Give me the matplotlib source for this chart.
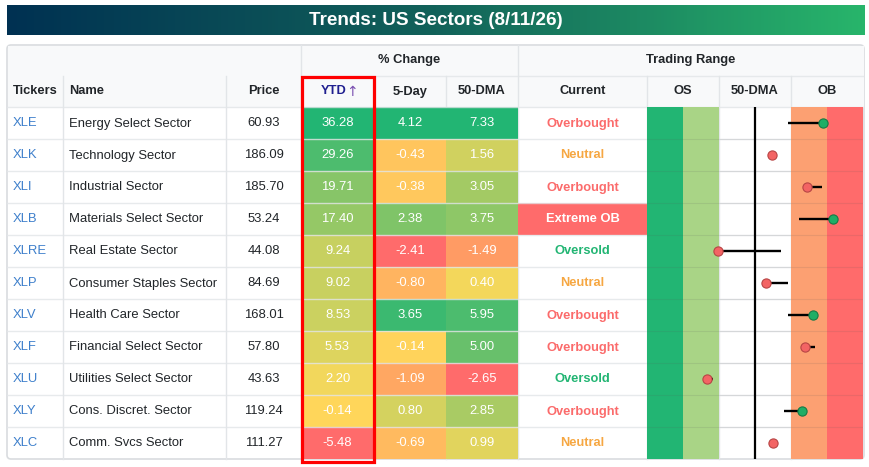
import numpy as np
import matplotlib
matplotlib.use('Agg')
import matplotlib.pyplot as plt
from matplotlib.patches import Rectangle, FancyBboxPatch
from matplotlib.colors import LinearSegmentedColormap, to_rgb

plt.rcParams['font.family'] = ['Liberation Sans', 'DejaVu Sans']

# ---- data ----
tickers = ['XLE', 'XLK', 'XLI', 'XLB', 'XLRE', 'XLP', 'XLV', 'XLF', 'XLU', 'XLY', 'XLC']
names = ['Energy Select Sector', 'Technology Sector', 'Industrial Sector',
         'Materials Select Sector', 'Real Estate Sector', 'Consumer Staples Sector',
         'Health Care Sector', 'Financial Select Sector', 'Utilities Select Sector',
         'Cons. Discret. Sector', 'Comm. Svcs Sector']
price = [60.93, 186.09, 185.70, 53.24, 44.08, 84.69, 168.01, 57.80, 43.63, 119.24, 111.27]
ytd = [36.28, 29.26, 19.71, 17.40, 9.24, 9.02, 8.53, 5.53, 2.20, -0.14, -5.48]
day5 = [4.12, -0.43, -0.38, 2.38, -2.41, -0.80, 3.65, -0.14, -1.09, 0.80, -0.69]
dma50 = [7.33, 1.56, 3.05, 3.75, -1.49, 0.40, 5.95, 5.00, -2.65, 2.85, 0.99]
status = ['Overbought', 'Neutral', 'Overbought', 'Extreme OB', 'Oversold', 'Neutral',
          'Overbought', 'Overbought', 'Oversold', 'Overbought', 'Neutral']
# trading range position (std devs from 50-DMA): a week ago -> now
range_prev = [0.92, 0.47, 1.86, 1.22, 0.72, 0.91, 0.92, 1.67, -1.16, 0.81, 0.50]
range_now = [1.89, 0.47, 1.44, 2.16, -1.03, 0.31, 1.60, 1.39, -1.34, 1.30, 0.50]

# ---- style ----
W, H = 869, 467
GREEN, YELLOW, RED = '#22b573', '#ffd95a', '#ff6b6b'
GRID = '#e2e5e8'
status_col = {'Overbought': '#fb6b6b', 'Neutral': '#f6a742',
              'Oversold': '#22b573', 'Extreme OB': 'white'}
edges = [7, 63, 226, 301, 374, 446, 518, 647, 719, 791, 863]
TOP, H1, H2, RH = 45, 76, 107, 32
n = len(tickers)
BOT = H2 + n * RH


def heat(v, vals):
    # diverging: yellow at 0 -> green at column max / red at column min
    lo, hi = min(vals), max(vals)
    a = np.array(to_rgb(YELLOW))
    if v >= 0:
        f, b = v / hi, np.array(to_rgb(GREEN))
    else:
        f, b = v / lo, np.array(to_rgb(RED))
    return tuple(a + (b - a) * f)


fig = plt.figure(figsize=(W / 100, H / 100), dpi=100)
ax = fig.add_axes([0, 0, 1, 1])
ax.set_xlim(0, W); ax.set_ylim(H, 0); ax.axis('off')

# title banner
cm = LinearSegmentedColormap.from_list('ban', ['#003152', '#12625a', '#28b56b'])
ax.imshow(np.linspace(0, 1, 256)[None, :], cmap=cm, aspect='auto',
          extent=[7, 865, 35, 5], zorder=1)
ax.text(436, 20.5, 'Trends: US Sectors (8/11/26)', color='white', fontsize=13.6,
        fontweight='bold', ha='center', va='center', zorder=2)

# table frame + header background
ax.add_patch(FancyBboxPatch((7, TOP), 857, BOT - TOP, boxstyle='round,pad=0,rounding_size=4',
                            fc='white', ec='#d9dcdf', lw=1.2, zorder=1))
ax.add_patch(Rectangle((7.5, TOP + 0.5), 856, H2 - TOP, fc='#f8f9fa', ec='none', zorder=1.1))

# header texts
hkw = dict(fontsize=9.3, fontweight='bold', color='#212529', va='center', zorder=5)
ax.text((edges[3] + edges[6]) / 2, (TOP + H1) / 2, '% Change', ha='center', **hkw)
ax.text((edges[6] + edges[10]) / 2, (TOP + H1) / 2, 'Trading Range', ha='center', **hkw)
yh = (H1 + H2) / 2
ax.text(13, yh, 'Tickers', ha='left', **hkw)
ax.text(69, yh, 'Name', ha='left', **hkw)
for i, lab in [(2, 'Price'), (4, '5-Day'), (5, '50-DMA'), (6, 'Current'),
               (7, 'OS'), (8, '50-DMA'), (9, 'OB')]:
    ax.text((edges[i] + edges[i + 1]) / 2, yh, lab, ha='center', **hkw)
ax.text((edges[3] + edges[4]) / 2 - 4, yh, 'YTD', ha='center', fontsize=9.3,
        fontweight='bold', color='#1f1f8f', va='center', zorder=5)
ax.text((edges[3] + edges[4]) / 2 + 14, yh, '\u2191', ha='center', fontsize=10,
        family='DejaVu Sans', color='#7a4fb0', va='center', zorder=5)

# body rows
dkw = dict(fontsize=9.4, va='center', zorder=5)
for r in range(n):
    y0 = H2 + r * RH
    yc = y0 + RH / 2 + 0.5
    ax.text(13, yc, tickers[r], ha='left', color='#3d7fcb', **dkw)
    ax.text(69, yc, names[r], ha='left', color='#212529', **dkw)
    ax.text((edges[2] + edges[3]) / 2, yc, '%.2f' % price[r], ha='center',
            color='#212529', **dkw)
    for c, vals in zip((3, 4, 5), (ytd, day5, dma50)):
        ax.add_patch(Rectangle((edges[c], y0), edges[c + 1] - edges[c], RH,
                               fc=heat(vals[r], vals), ec='none', zorder=2))
        ax.text((edges[c] + edges[c + 1]) / 2, yc, '%.2f' % vals[r], ha='center',
                color='white', **dkw)
    st = status[r]
    if st == 'Extreme OB':
        ax.add_patch(Rectangle((edges[6], y0), edges[7] - edges[6], RH,
                               fc=RED, ec='none', zorder=2))
    ax.text((edges[6] + edges[7]) / 2, yc, st, ha='center', color=status_col[st],
            fontsize=9.3, fontweight='bold', va='center', zorder=5)

# grid lines
for y in [H1, H2] + [H2 + r * RH for r in range(1, n)]:
    x0 = edges[3] if y == H1 else 7
    ax.plot([x0, 863], [y, y], color=GRID, lw=1, zorder=3, alpha=0.8)
for x in edges[1:-1]:
    y0 = TOP if x in (edges[3], edges[6]) else H1
    ax.plot([x, x], [y0, BOT], color=GRID, lw=1, zorder=1.5)

# red highlight box around YTD
ax.add_patch(Rectangle((edges[3] + 1, H1 + 0.5), edges[4] - edges[3] - 1, BOT - H1 + 2,
                       fc='none', ec='#ff0000', lw=2.3, zorder=6))

# trading range panel
tr = fig.add_axes([edges[7] / W, 1 - BOT / H, (edges[10] - edges[7]) / W, n * RH / H])
tr.set_xlim(-3, 3); tr.set_ylim(n, 0); tr.axis('off')
for lo, hi, col in [(-3, -2, '#22b573'), (-2, -1, '#a9d486'),
                    (1, 2, '#fca072'), (2, 3, '#ff6b6b')]:
    tr.axvspan(lo, hi, color=col, lw=0, zorder=1)
for r in range(1, n):
    tr.axhline(r, color='#555555', lw=0.8, alpha=0.12, zorder=2)
tr.axvline(0, color='black', lw=1.6, zorder=3)
ys = np.arange(n) + 0.5
tr.hlines(ys, range_prev, range_now, color='black', lw=1.7, zorder=4)
up = np.array(range_now) > np.array(range_prev)
tr.scatter(np.array(range_now)[up], ys[up], s=44, c='#1fae66', edgecolors='#177a46',
           linewidths=0.8, zorder=5)
tr.scatter(np.array(range_now)[~up], ys[~up], s=44, c='#f36464', edgecolors='#b84545',
           linewidths=0.8, zorder=5)

fig.savefig('out.png', dpi=100)
